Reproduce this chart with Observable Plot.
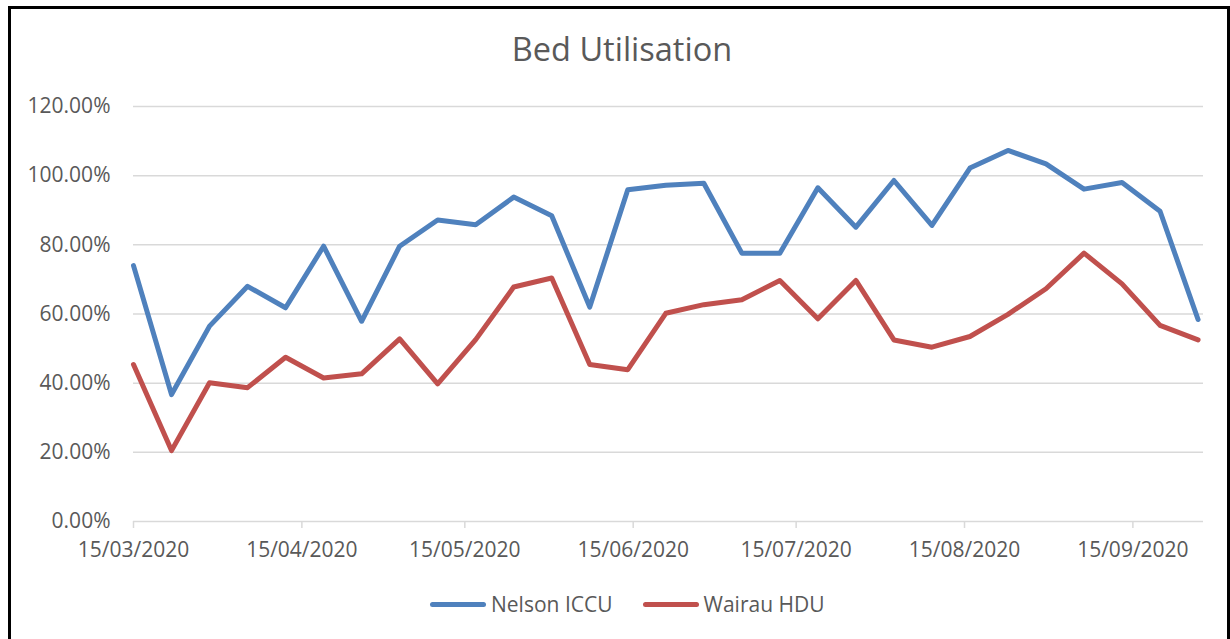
<!DOCTYPE html>
<html>
<head>
<meta charset="utf-8">
<script src="https://cdn.jsdelivr.net/npm/d3@7"></script>
<script src="https://cdn.jsdelivr.net/npm/@observablehq/plot@0.6"></script>
<style>
  html, body { margin: 0; padding: 0; background: #fff; }
  body { width: 1230px; height: 639px; position: relative; overflow: hidden; font-family: "Open Sans", sans-serif; color: #595959; }
  #frame { position: absolute; left: 8px; top: 6px; width: 1222px; height: 700px; border: 3px solid #000; box-sizing: border-box; }
  #title { position: absolute; left: 0; top: 33px; width: 1244px; text-align: center; font-size: 32.5px; line-height: 32.5px; color: #595959; }
  #chart { position: absolute; left: 0; top: 90px; }
  #legend { position: absolute; left: 430px; top: 594px; display: flex; align-items: center; font-size: 21px; line-height: 21px; color: #595959; }
  .item { display: flex; align-items: center; }
  .sw { width: 56px; height: 5px; border-radius: 3px; margin-right: 5px; }
</style>
</head>
<body>
<div id="frame"></div>
<div id="title">Bed Utilisation</div>
<div id="chart"></div>
<div id="legend"></div>
<script>
const dates = ["2020-03-15","2020-03-22","2020-03-29","2020-04-05","2020-04-12","2020-04-19","2020-04-26",
  "2020-05-03","2020-05-10","2020-05-17","2020-05-24","2020-05-31","2020-06-07","2020-06-14",
  "2020-06-21","2020-06-28","2020-07-05","2020-07-12","2020-07-19","2020-07-26","2020-08-02",
  "2020-08-09","2020-08-16","2020-08-23","2020-08-30","2020-09-06","2020-09-13","2020-09-20","2020-09-27"];
const nelsonICCU = [74.0, 36.7, 56.5, 68.0, 61.8, 79.6, 57.9, 79.6, 87.2, 85.8, 93.8, 88.4, 62.0, 95.9,
  97.2, 97.8, 77.6, 77.6, 96.5, 85.1, 98.6, 85.6, 102.2, 107.3, 103.4, 96.1, 98.0, 89.7, 58.4];
const wairauHDU = [45.4, 20.5, 40.1, 38.7, 47.5, 41.5, 42.7, 52.8, 39.8, 52.6, 67.8, 70.4, 45.4, 43.9,
  60.2, 62.7, 64.1, 69.7, 58.6, 69.7, 52.5, 50.4, 53.5, 59.9, 67.3, 77.6, 68.7, 56.7, 52.5];
const seriesNames = ["Nelson ICCU", "Wairau HDU"];
const seriesColors = ["#4f81bd", "#c0504d"];
const xTickDates = ["2020-03-15","2020-04-15","2020-05-15","2020-06-15","2020-07-15","2020-08-15","2020-09-15"];
const yTicks = [0, 20, 40, 60, 80, 100, 120];
const xDomain = ["2020-03-15", "2020-09-28"];

const parse = d3.utcParse("%Y-%m-%d");
const data = [];
[nelsonICCU, wairauHDU].forEach((vals, s) => {
  vals.forEach((v, i) => data.push({date: parse(dates[i]), value: v, series: seriesNames[s]}));
});

const chart = Plot.plot({
  width: 1230,
  height: 480,
  marginTop: 16,
  marginBottom: 49,
  marginLeft: 133,
  marginRight: 27,
  style: {fontFamily: "Open Sans", fontSize: "21px", color: "#595959", background: "transparent"},
  x: {type: "utc", domain: xDomain.map(parse)},
  y: {domain: [0, 120]},
  color: {domain: seriesNames, range: seriesColors},
  marks: [
    Plot.gridY(yTicks.filter(t => t > 0), {stroke: "#d9d9d9", strokeOpacity: 1, strokeWidth: 1.5}),
    Plot.ruleY([0], {stroke: "#d9d9d9", strokeWidth: 1.5}),
    Plot.axisY(yTicks, {tickSize: 0, tickPadding: 23, tickFormat: d => d.toFixed(2) + "%", label: null, fill: "#595959"}),
    Plot.axisX(xTickDates.map(parse), {tickSize: 7, tickPadding: 14, stroke: "#d9d9d9", strokeWidth: 1.5, strokeOpacity: 1,
      tickFormat: d3.utcFormat("%d/%m/%Y"), label: null, fill: "#595959"}),
    Plot.line(data, {x: "date", y: "value", stroke: "series", z: "series", strokeWidth: 5,
      strokeLinejoin: "round", strokeLinecap: "round", curve: "linear"})
  ]
});
document.getElementById("chart").appendChild(chart);

const legend = document.getElementById("legend");
seriesNames.forEach((name, i) => {
  const item = document.createElement("div");
  item.className = "item";
  if (i > 0) item.style.marginLeft = "30px";
  const sw = document.createElement("div");
  sw.className = "sw";
  sw.style.background = seriesColors[i];
  const label = document.createElement("span");
  label.textContent = name;
  item.appendChild(sw);
  item.appendChild(label);
  legend.appendChild(item);
});
</script>
</body>
</html>
